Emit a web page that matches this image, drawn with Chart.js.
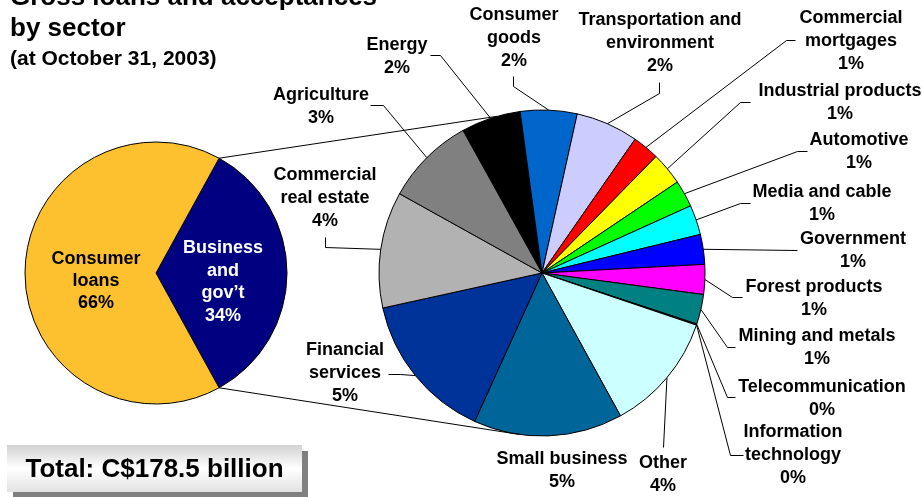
<!DOCTYPE html>
<html>
<head>
<meta charset="utf-8">
<script src="https://cdn.jsdelivr.net/npm/chart.js@4.4.0/dist/chart.umd.min.js"></script>
<style>
  body { margin: 0; background: #fff; }
  #wrap { position: relative; width: 922px; height: 497px; overflow: hidden; }
  #wrap canvas { position: absolute; left: 0; top: 0; }
  .title { position: absolute; left: 10px; top: -19px; font: bold 26px/31px "Liberation Sans", Arial, sans-serif; white-space: nowrap; color: #000; }
  .sub { position: absolute; left: 10px; top: 46px; font: bold 21px/24px "Liberation Sans", Arial, sans-serif; white-space: nowrap; color: #000; }
  .total { position: absolute; left: 7px; top: 445px; width: 295px; height: 47px;
    background: linear-gradient(to bottom, #d2d2d2 0%, #ffffff 50%, #e2e2e2 100%);
    box-shadow: 6px 6px 0 #808080; text-align: center;
    font: bold 26px/47px "Liberation Sans", Arial, sans-serif; color: #000; }
</style>
</head>
<body>
<div id="wrap">
  <canvas id="split" width="922" height="497"></canvas>
  <canvas id="sectors" width="922" height="497"></canvas>
  <div class="title">Gross loans and acceptances<br>by sector</div>
  <div class="sub">(at October 31, 2003)</div>
  <div class="total">Total: C$178.5 billion</div>
</div>
<script>
// consumer vs business split (% of total)
const splitLabels = ['Business\nand\ngov’t', 'Consumer\nloans'];
const splitValues = [34, 66];
const splitColors = ['#000080', '#FDC02F'];

// business and government loans by sector (% of total), clockwise from Energy
const sectors = [
  'Energy', 'Consumer\ngoods', 'Transportation and\nenvironment', 'Commercial\nmortgages',
  'Industrial products', 'Automotive', 'Media and cable', 'Government', 'Forest products',
  'Mining and metals', 'Telecommunication', 'Information\ntechnology', 'Other',
  'Small business', 'Financial\nservices', 'Commercial\nreal estate', 'Agriculture'
];
const sectorValues = [2.0, 1.9, 2.1, 0.9, 1.1, 0.9, 1.0, 1.0, 1.0, 1.0, 0.02, 0.02, 4.0, 5.0, 5.0, 3.9, 3.0];
const sectorColors = [
  '#000000', '#0066CC', '#CCCCFF', '#FF0000', '#FFFF00', '#00FF00', '#00FFFF', '#0000FF',
  '#FF00FF', '#008080', '#99CCFF', '#CCFFFF', '#CCFFFF', '#006699', '#003399', '#B2B2B2', '#808080'
];

const FONT = 'bold 18px "Liberation Sans", Arial, sans-serif';
const pct = v => Math.round(v) + '%';

function drawLines(ctx, lines, x, y, step) {
  lines.forEach((t, k) => ctx.fillText(t, x, y + k * step));
}

// text inside the left pie, offset from its centre
const splitText = {
  id: 'splitText',
  afterDraw(chart) {
    const ctx = chart.ctx;
    const arcs = chart.getDatasetMeta(0).data;
    const spots = [{dx: 67, dy: -25, step: 22.7, color: '#fff'}, {dx: -60, dy: -14, step: 22, color: '#000'}];
    ctx.save();
    ctx.font = FONT;
    ctx.textAlign = 'center';
    ctx.textBaseline = 'middle';
    arcs.forEach((arc, i) => {
      const s = spots[i];
      ctx.fillStyle = s.color;
      drawLines(ctx, splitLabels[i].split('\n').concat(pct(splitValues[i])), arc.x + s.dx, arc.y + s.dy, s.step);
    });
    ctx.restore();
  }
};

const splitChart = new Chart(document.getElementById('split'), {
  type: 'pie',
  data: {
    labels: splitLabels,
    datasets: [{
      data: splitValues,
      backgroundColor: splitColors,
      borderColor: '#000',
      borderWidth: 1,
      hoverOffset: 0
    }]
  },
  options: {
    responsive: false,
    animation: false,
    events: [],
    rotation: 90 - splitValues[0] * 1.8,
    radius: 131,
    layout: { padding: { left: 25, right: 635, top: 142, bottom: 93 } },
    plugins: { legend: { display: false }, tooltip: { enabled: false } }
  },
  plugins: [splitText]
});

// label centre (x, first line y) and leader elbow points for each sector
const callouts = [
  {x: 397, y: 45, path: [[430, 55], [440, 55]]},
  {x: 514, y: 15, path: [[513, 76], [513, 86]]},
  {x: 660, y: 20, path: [[659, 82], [659, 93]]},
  {x: 851, y: 18, path: [[795, 40], [786, 40]]},
  {x: 840, y: 91, path: [[750, 102], [740, 102]]},
  {x: 859, y: 140, path: [[807, 151], [797, 151]]},
  {x: 822, y: 192, path: [[750, 203], [740, 203]]},
  {x: 853, y: 239, path: [[797, 250]]},
  {x: 814, y: 287, path: [[742, 297], [732, 297]]},
  {x: 817, y: 336, path: [[735, 347], [727, 347]]},
  {x: 822, y: 387, path: [[735, 397], [727, 397]]},
  {x: 793, y: 432, path: [[743, 455], [730, 455]]},
  {x: 663, y: 463, path: [[663, 447]]},
  {x: 562, y: 459, path: null},
  {x: 345, y: 350, path: [[388, 374], [400, 374]]},
  {x: 325, y: 175, path: [[325, 237], [325, 247]]},
  {x: 321, y: 95, path: [[370, 105], [383, 105]]}
];

const onEdge = (arc, ang) => [arc.x + arc.outerRadius * Math.cos(ang), arc.y + arc.outerRadius * Math.sin(ang)];
const clock = deg => (deg - 90) * Math.PI / 180;

const sectorCallouts = {
  id: 'sectorCallouts',
  afterDraw(chart) {
    const ctx = chart.ctx;
    const arcs = chart.getDatasetMeta(0).data;
    const biz = splitChart.getDatasetMeta(0).data[0];
    ctx.save();
    ctx.strokeStyle = '#000';
    ctx.lineWidth = 1;

    // lines joining the business slice to the breakdown pie
    const a = onEdge(biz, biz.startAngle), b = onEdge(arcs[0], clock(344));
    const c = onEdge(biz, biz.endAngle), d = onEdge(arcs[0], clock(188));
    ctx.beginPath();
    ctx.moveTo(a[0], a[1]); ctx.lineTo(b[0], b[1]);
    ctx.moveTo(c[0], c[1]); ctx.lineTo(d[0], d[1]);
    ctx.stroke();

    // leaders
    arcs.forEach((arc, i) => {
      const co = callouts[i];
      if (!co.path) return;
      const end = onEdge(arc, (arc.startAngle + arc.endAngle) / 2);
      ctx.beginPath();
      ctx.moveTo(co.path[0][0] + 0.5, co.path[0][1] + 0.5);
      co.path.slice(1).forEach(p => ctx.lineTo(p[0] + 0.5, p[1] + 0.5));
      ctx.lineTo(end[0], end[1]);
      ctx.stroke();
    });

    // labels
    ctx.font = FONT;
    ctx.fillStyle = '#000';
    ctx.textAlign = 'center';
    ctx.textBaseline = 'middle';
    sectors.forEach((name, i) => {
      drawLines(ctx, name.split('\n').concat(pct(sectorValues[i])), callouts[i].x, callouts[i].y, 23);
    });
    ctx.restore();
  }
};

new Chart(document.getElementById('sectors'), {
  type: 'pie',
  data: {
    labels: sectors,
    datasets: [{
      data: sectorValues,
      backgroundColor: sectorColors,
      borderColor: '#000',
      borderWidth: 1,
      hoverOffset: 0
    }]
  },
  options: {
    responsive: false,
    animation: false,
    events: [],
    rotation: 331,
    radius: 163,
    layout: { padding: { left: 379, right: 217, top: 110, bottom: 61 } },
    plugins: { legend: { display: false }, tooltip: { enabled: false } }
  },
  plugins: [sectorCallouts]
});
</script>
</body>
</html>
